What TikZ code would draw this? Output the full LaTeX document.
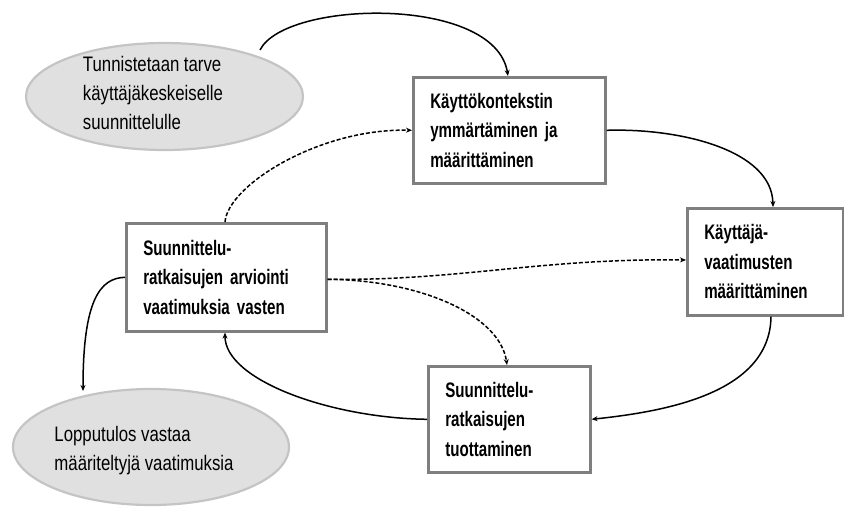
\documentclass[tikz,border=0pt]{standalone}
\usepackage{fontspec}
\setmainfont{Liberation Sans}
\newfontfamily\ellfont[FakeStretch=0.8]{Liberation Sans}
\newfontfamily\boxfont[FakeStretch=0.72]{Liberation Sans Bold}
\newcommand\myboxfont{\boxfont\fontsize{21pt}{29.5pt}\selectfont\spaceskip 4pt plus 1pt\relax}
\newcommand\myellfont{\ellfont\fontsize{21pt}{29pt}\selectfont\spaceskip 4.5pt plus 1pt\relax}
\usetikzlibrary{shapes.geometric,arrows.meta}
\definecolor{ellfill}{HTML}{E0E0E0}
\definecolor{elldraw}{HTML}{C4C4C4}
\definecolor{boxdraw}{HTML}{7F7F7F}
\tikzset{
  stepbox/.style={draw=boxdraw, line width=2.6pt, fill=white, anchor=north west,
    inner xsep=17pt, inner ysep=0pt, align=left, font=\myboxfont},
  ellbox/.style={ellipse, draw=elldraw, line width=2.2pt, fill=ellfill, inner sep=0pt},
  elltext/.style={align=left, inner sep=0pt, font=\myellfont},
  flow/.style={line width=1.5pt, -{Stealth[length=6pt,width=5pt]}},
  dflow/.style={flow, dash pattern=on 4pt off 2pt},
}
\begin{document}
\begin{tikzpicture}[x=1pt,y=-1pt]
\useasboundingbox (0,0) rectangle (844,507);
% ellipses
\node[ellbox, minimum width=277pt, minimum height=107pt] (e1) at (164.5,96.5) {};
\node[elltext] (t1) at (153,93) {Tunnistetaan tarve\\käyttäjäkeskeiselle\\suunnittelulle};
\node[ellbox, minimum width=276pt, minimum height=116pt] (e2) at (151,447) {};
\node[elltext] (t2) at (144,451) {Lopputulos vastaa\\määriteltyjä vaatimuksia};
% boxes
\node[stepbox, text width=158pt, minimum width=192pt, minimum height=106pt] (b1) at (412,76) {Käyttökontekstin\\ymmärtäminen ja\\määrittäminen};
\node[stepbox, text width=122pt, minimum width=155pt, minimum height=107pt] (b2) at (686,207) {Käyttäjä-\\vaatimusten\\määrittäminen};
\node[stepbox, text width=128pt, minimum width=162pt, minimum height=106pt] (b3) at (427,365) {Suunnittelu-\\ratkaisujen\\tuottaminen};
\node[stepbox, text width=166pt, minimum width=200pt, minimum height=108pt] (b4) at (125,222) {Suunnittelu-\\ratkaisujen arviointi\\vaatimuksia vasten};
% coordinates on borders
\coordinate (e1out) at (260,50);
\coordinate (b1top) at ([xshift=96pt]b1.north west);
\coordinate (b2top) at ([xshift=87pt]b2.north west);
\coordinate (b2bot) at ([xshift=85pt]b2.south west);
\coordinate (b4bot) at ([xshift=100pt]b4.south west);
\coordinate (b4top) at ([xshift=100pt]b4.north west);
\coordinate (b4right) at ([yshift=-2pt]b4.east);
\coordinate (b2left) at ([yshift=-53pt]b2.north west);
\coordinate (b3top) at ([xshift=80pt]b3.north west);
\coordinate (e2top) at (83,391);
% solid flows
\draw[flow] (e1out) .. controls (285,0) and (495,-5) .. (b1top);
\draw[flow] (b1.east) .. controls (680,128) and (772,150) .. (b2top);
\draw[flow] (b2bot) .. controls (770,395) and (660,412) .. (b3.east);
\draw[flow] (b3.west) .. controls (330,418) and (225,380) .. (b4bot);
\draw[flow] (b4.west) .. controls (100,278) and (83,300) .. (e2top);
% dashed flows
\draw[dflow] (b4top) .. controls (228,185) and (320,128) .. (b1.west);
\draw[dflow] (b4right) .. controls (460,281) and (540,258) .. (b2left);
\draw[dflow] (b4right) .. controls (420,280) and (500,315) .. (b3top);
\end{tikzpicture}
\end{document}
